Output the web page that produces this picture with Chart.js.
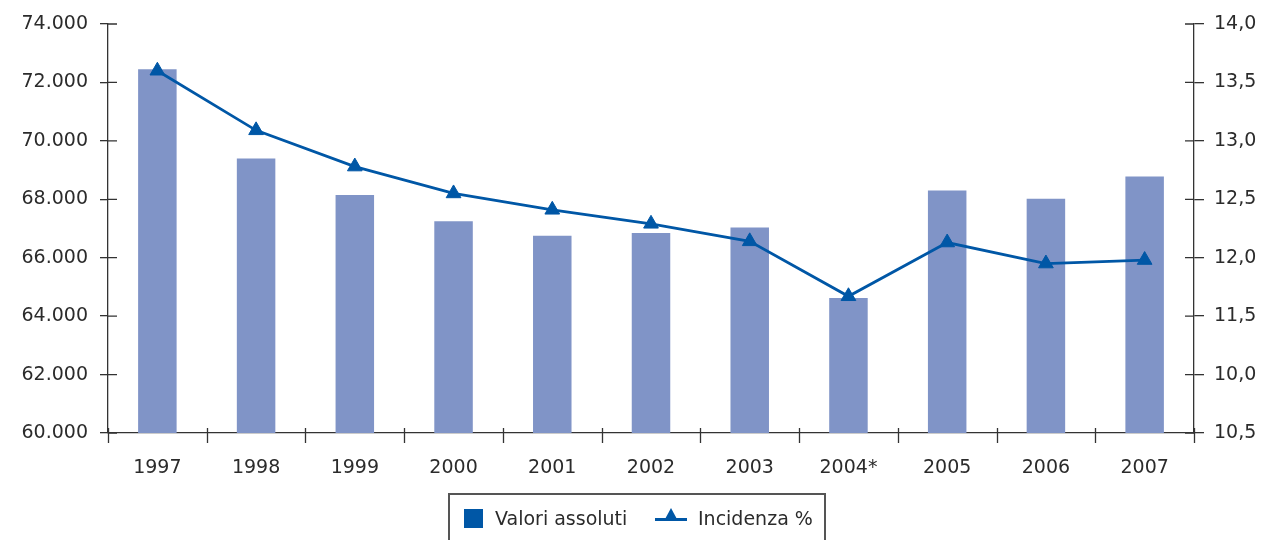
<!DOCTYPE html>
<html>
<head>
<meta charset="utf-8">
<script src="https://cdn.jsdelivr.net/npm/chart.js@4.4.1/dist/chart.umd.min.js"></script>
<style>
    html, body { margin: 0; padding: 0; background: #fff; }
    #wrap { position: relative; width: 1267px; height: 540px; }
    #legend {
        position: absolute; left: 448px; top: 493px; width: 378px; height: 60px;
        border: 2px solid #555; box-sizing: border-box;
        font-family: "DejaVu Sans", sans-serif; font-size: 19px; color: #2b2b2b;
    }
    #legend .item { position: absolute; top: 12px; line-height: 22px; }
    .sq { position: absolute; left: 14px; top: 14px; width: 19px; height: 19px; background: #0057A6; }
    .ln { position: absolute; left: 205px; top: 23px; width: 32px; height: 3px; background: #0057A6; }
    .tri {
        position: absolute; left: 214px; top: 13px; width: 0; height: 0;
        border-left: 7px solid transparent; border-right: 7px solid transparent;
        border-bottom: 13px solid #0057A6;
    }
</style>
</head>
<body>
<div id="wrap">
    <canvas id="chart" width="1267" height="540"></canvas>
    <div id="legend">
        <div class="sq"></div>
        <div class="item" style="left:45px">Valori assoluti</div>
        <div class="ln"></div>
        <div class="tri"></div>
        <div class="item" style="left:248px">Incidenza %</div>
    </div>
</div>
<script>
// anni e serie
const years = ["1997", "1998", "1999", "2000", "2001", "2002", "2003", "2004*", "2005", "2006", "2007"];
const valoriAssoluti = [72450, 69400, 68150, 67250, 66750, 66850, 67030, 64620, 68300, 68020, 68780];
const incidenza = [13.6, 13.09, 12.78, 12.55, 12.41, 12.29, 12.14, 11.67, 12.13, 11.95, 11.98];
// etichette dell'asse destro, dal basso verso l'alto
const rightTickLabels = ["10,5", "10,0", "11,5", "12,0", "12,5", "13,0", "13,5", "14,0"];

const FONT = { family: "DejaVu Sans", size: 19 };
const TEXT = "#2b2b2b";
const AXIS = "#333";

// trattini che attraversano l'asse (parte interna)
const innerTicks = {
    id: "innerTicks",
    afterDraw(chart) {
        const ctx = chart.ctx;
        const { y, y1, x } = chart.scales;
        ctx.save();
        ctx.strokeStyle = AXIS;
        ctx.lineWidth = 1.3;
        ctx.beginPath();
        y.ticks.forEach((t) => {
            const py = y.getPixelForValue(t.value);
            ctx.moveTo(y.right, py);
            ctx.lineTo(y.right + 9, py);
        });
        y1.ticks.forEach((t) => {
            const py = y1.getPixelForValue(t.value);
            ctx.moveTo(y1.left - 9, py);
            ctx.lineTo(y1.left, py);
        });
        const step = (x.right - x.left) / years.length;
        for (let i = 0; i <= years.length; i++) {
            const px = Math.round(x.left + i * step) + 0.5;
            ctx.moveTo(px, x.top - 5);
            ctx.lineTo(px, x.top + 10);
        }
        ctx.stroke();
        ctx.restore();
    },
};

new Chart(document.getElementById("chart"), {
    data: {
        labels: years,
        datasets: [
            {
                type: "line",
                label: "Incidenza %",
                data: incidenza,
                yAxisID: "y1",
                borderColor: "#0057A6",
                backgroundColor: "#0057A6",
                borderWidth: 2.8,
                pointStyle: "triangle",
                pointRadius: 8.5,
                pointBorderWidth: 1,
                tension: 0,
                order: 0,
            },
            {
                type: "bar",
                label: "Valori assoluti",
                data: valoriAssoluti,
                yAxisID: "y",
                backgroundColor: "#8094C7",
                categoryPercentage: 1,
                barPercentage: 0.39,
                order: 1,
            },
        ],
    },
    options: {
        responsive: false,
        animation: false,
        layout: { padding: { top: 24, left: 0, right: 0, bottom: 0 } },
        plugins: { legend: { display: false }, tooltip: { enabled: false } },
        scales: {
            x: {
                offset: true,
                grid: { display: false, drawTicks: false },
                border: { display: true, color: AXIS, width: 1.3 },
                ticks: { color: TEXT, font: FONT, padding: 24, maxRotation: 0 },
                afterFit: (s) => { s.height = 107; },
            },
            y: {
                position: "left",
                min: 60000,
                max: 74000,
                grid: { drawOnChartArea: false, drawTicks: true, tickLength: 8, color: AXIS, lineWidth: 1.3 },
                border: { display: true, color: AXIS, width: 1.3 },
                ticks: {
                    stepSize: 2000,
                    color: TEXT,
                    font: FONT,
                    padding: 12,
                    callback: (v) => v / 1000 + ".000",
                },
                afterFit: (s) => { s.width = 108; },
            },
            y1: {
                position: "right",
                min: 10.5,
                max: 14,
                grid: { drawOnChartArea: false, drawTicks: true, tickLength: 10, color: AXIS, lineWidth: 1.3 },
                border: { display: true, color: AXIS, width: 1.3 },
                ticks: {
                    stepSize: 0.5,
                    color: TEXT,
                    font: FONT,
                    padding: 10,
                    callback: (v) => rightTickLabels[Math.round((v - 10.5) / 0.5)],
                },
                afterFit: (s) => { s.width = 73; },
            },
        },
    },
    plugins: [innerTicks],
});
</script>
</body>
</html>
